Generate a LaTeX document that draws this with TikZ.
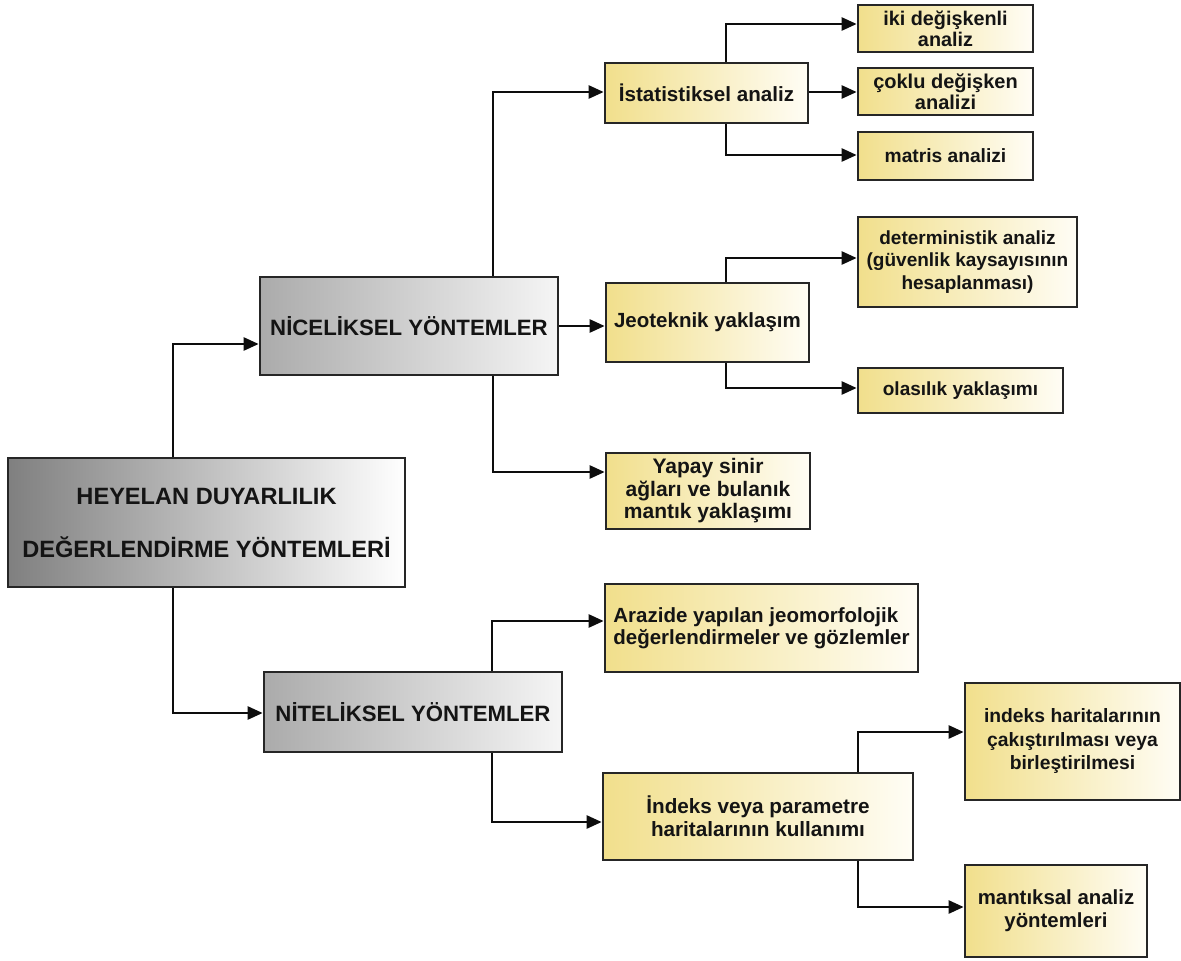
\documentclass[tikz,border=0pt]{standalone}
\usepackage{fontspec}
\setmainfont{Liberation Sans}
\usetikzlibrary{arrows.meta}
\definecolor{bord}{HTML}{262626}
\definecolor{yel}{HTML}{F1DF8C}
\definecolor{yelr}{HTML}{FFFDF5}
\tikzset{
  box/.style={draw=bord, line width=2.7pt, inner sep=0pt, align=center, text=black!92},
  rootbox/.style={box, left color=black!50, right color=white},
  graybox/.style={box, left color=black!33, right color=white!96!black},
  ybox/.style={box, left color=yel, right color=yelr},
  conn/.style={draw=black!95, line width=2.5pt, -{Triangle[length=15pt,width=13pt]}},
  fs/.style 2 args={font=\bfseries\fontsize{#1}{#2}\selectfont},
}
\begin{document}
\begin{tikzpicture}[x=1pt,y=-1pt]
\useasboundingbox[fill=white] (0,0) rectangle (1181,961);
% main nodes
\node[rootbox, fs={23.6}{53}, minimum width=397pt, minimum height=129pt] (root) at (206.5,522.5) {HEYELAN DUYARLILIK\\DEĞERLENDİRME YÖNTEMLERİ};
\node[graybox, fs={22.2}{26}, minimum width=298pt, minimum height=98pt] (nic) at (409,326) {NİCELİKSEL YÖNTEMLER};
\node[graybox, fs={22.2}{26}, minimum width=298pt, minimum height=80pt] (nit) at (413,712) {NİTELİKSEL YÖNTEMLER};
% level 2
\node[ybox, fs={20.6}{23}, minimum width=203pt, minimum height=60pt] (ist) at (706.5,93) {İstatistiksel analiz};
\node[ybox, fs={20.5}{23}, minimum width=203pt, minimum height=79pt] (jeo) at (707.5,322.5) {Jeoteknik yaklaşım};
\node[ybox, fs={21}{22.5}, minimum width=204pt, minimum height=76pt] (yap) at (708,491) {Yapay sinir\\ağları ve bulanık\\mantık yaklaşımı};
\node[ybox, fs={20.5}{22}, minimum width=313pt, minimum height=88pt, align=left] (ara) at (761.5,628) {Arazide yapılan jeomorfolojik\\değerlendirmeler ve gözlemler};
\node[ybox, fs={20.7}{23}, minimum width=310pt, minimum height=87pt] (ind) at (758,816.5) {İndeks veya parametre\\haritalarının kullanımı};
% level 3
\node[ybox, fs={19.8}{21}, minimum width=175pt, minimum height=47pt] (iki) at (945.5,28.5) {iki değişkenli\\analiz};
\node[ybox, fs={20}{21}, minimum width=175pt, minimum height=47pt] (cok) at (945.5,91.5) {çoklu değişken\\analizi};
\node[ybox, fs={19.2}{21}, minimum width=175pt, minimum height=48pt] (mat) at (945.5,156) {matris analizi};
\node[ybox, fs={19}{22.5}, minimum width=219pt, minimum height=90pt] (det) at (967.5,262) {deterministik analiz\\(güvenlik kaysayısının\\hesaplanması)};
\node[ybox, fs={19}{22}, minimum width=205pt, minimum height=45pt] (ola) at (960.5,390.5) {olasılık yaklaşımı};
\node[ybox, fs={19.3}{23.5}, minimum width=215pt, minimum height=117pt] (ikh) at (1072.5,741.5) {indeks haritalarının\\çakıştırılması veya\\birleştirilmesi};
\node[ybox, fs={20.4}{23}, minimum width=182pt, minimum height=92pt] (man) at (1056,911) {mantıksal analiz\\yöntemleri};
% connectors
\draw[conn] (root.north -| 173,0) |- (nic.west |- 0,344);
\draw[conn] (root.south -| 173,0) |- (nit.west |- 0,713);
\draw[conn] (nic.north -| 493,0) |- (ist.west |- 0,92);
\draw[conn] (nic.east |- 0,326) -- (jeo.west |- 0,326);
\draw[conn] (nic.south -| 493,0) |- (yap.west |- 0,472);
\draw[conn] (ist.north -| 726,0) |- (iki.west |- 0,24);
\draw[conn] (ist.east |- 0,92) -- (cok.west |- 0,92);
\draw[conn] (ist.south -| 726,0) |- (mat.west |- 0,155);
\draw[conn] (jeo.north -| 726,0) |- (det.west |- 0,258);
\draw[conn] (jeo.south -| 726,0) |- (ola.west |- 0,388);
\draw[conn] (nit.north -| 492,0) |- (ara.west |- 0,621);
\draw[conn] (nit.south -| 492,0) |- (ind.west |- 0,822);
\draw[conn] (ind.north -| 858,0) |- (ikh.west |- 0,732);
\draw[conn] (ind.south -| 858,0) |- (man.west |- 0,907);
\end{tikzpicture}
\end{document}
